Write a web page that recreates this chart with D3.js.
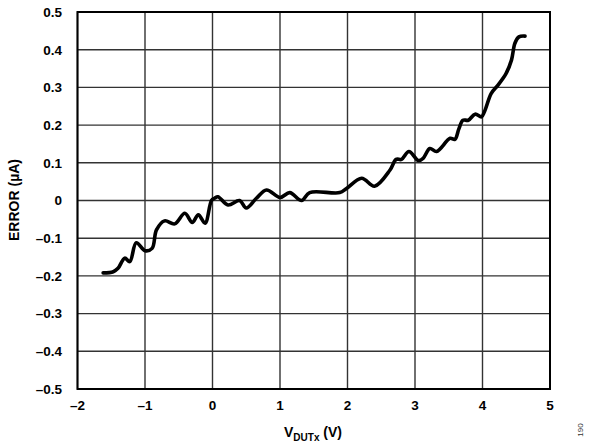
<!DOCTYPE html>
<html><head><meta charset="utf-8">
<script src="https://cdn.jsdelivr.net/npm/d3@7"></script>
<style>body{margin:0;background:#fff}</style>
</head><body>
<svg id="c" width="597" height="446"></svg>
<script>
const vdut = [-1.62,-1.47,-1.40,-1.30,-1.225,-1.13,-1.00,-0.895,-0.83,-0.71,-0.56,-0.41,-0.30,-0.21,-0.11,-0.015,0.03,0.08,0.23,0.40,0.50,0.65,0.80,1.0,1.145,1.32,1.44,1.885,1.985,2.21,2.40,2.63,2.72,2.80,2.91,3.05,3.12,3.22,3.32,3.52,3.59,3.65,3.71,3.79,3.89,3.985,4.03,4.13,4.23,4.35,4.43,4.48,4.54,4.63];
const errorUA = [-0.192,-0.189,-0.18,-0.153,-0.162,-0.112,-0.133,-0.127,-0.078,-0.054,-0.062,-0.034,-0.058,-0.038,-0.06,0.0,0.006,0.01,-0.012,0.0,-0.02,0.006,0.028,0.008,0.021,0.0,0.021,0.021,0.032,0.059,0.038,0.081,0.109,0.109,0.13,0.106,0.112,0.138,0.13,0.165,0.162,0.19,0.213,0.213,0.229,0.222,0.236,0.284,0.306,0.337,0.373,0.417,0.434,0.436];
const xTicks = [-2,-1,0,1,2,3,4,5];
const yTicks = [-0.5,-0.4,-0.3,-0.2,-0.1,0,0.1,0.2,0.3,0.4,0.5];
const fmt = v => (v < 0 ? "\u2013" : "") + (Math.abs(v) < 1e-9 ? "0" : String(Math.abs(v)));

const svg = d3.select("#c");
const L = 77.5, R = 550, T = 12, B = 389;
const x = d3.scaleLinear().domain([-2,5]).range([L,R]);
const y = d3.scaleLinear().domain([-0.5,0.5]).range([B,T]);

const g = svg.append("g");
g.selectAll("line.vx").data(xTicks).join("line")
  .attr("x1", d=>x(d)).attr("x2", d=>x(d)).attr("y1", T).attr("y2", B)
  .attr("stroke", "#333").attr("stroke-width", 1.4);
g.selectAll("line.hy").data(yTicks).join("line")
  .attr("y1", d=>y(d)).attr("y2", d=>y(d)).attr("x1", L).attr("x2", R)
  .attr("stroke", "#333").attr("stroke-width", 1.4);
g.append("rect").attr("x", L).attr("y", T).attr("width", R-L).attr("height", B-T)
  .attr("fill", "none").attr("stroke", "#000").attr("stroke-width", 2);

const font = "'Liberation Sans', Arial, sans-serif";
g.selectAll("text.xt").data(xTicks).join("text")
  .attr("x", d=>x(d)).attr("y", 410).attr("text-anchor", "middle")
  .attr("font-family", font).attr("font-weight", "bold").attr("font-size", 13.5)
  .text(fmt);
g.selectAll("text.yt").data(yTicks).join("text")
  .attr("x", 62).attr("y", d=>y(d)+4.8).attr("text-anchor", "end")
  .attr("font-family", font).attr("font-weight", "bold").attr("font-size", 13.5)
  .text(fmt);

const pts = vdut.map((v,i)=>[v, errorUA[i]]);
const line = d3.line().x(d=>x(d[0])).y(d=>y(d[1])).curve(d3.curveCatmullRom.alpha(0.5));
g.append("path").attr("d", line(pts)).attr("fill", "none")
  .attr("stroke", "#000").attr("stroke-width", 3.6).attr("stroke-linejoin", "round").attr("stroke-linecap", "round");

const xl = g.append("text").attr("x", 313).attr("y", 437).attr("text-anchor", "middle")
  .attr("font-family", font).attr("font-weight", "bold").attr("font-size", 14);
xl.append("tspan").text("V");
xl.append("tspan").attr("font-size", 10).attr("dy", 4).text("DUTx");
xl.append("tspan").attr("dy", -4).text(" (V)");

g.append("text").attr("transform", "translate(19,200) rotate(-90)").attr("text-anchor", "middle")
  .attr("font-family", font).attr("font-weight", "bold").attr("font-size", 14)
  .text("ERROR (\u00b5A)");

g.append("text").attr("transform", "translate(583,430) rotate(-90)").attr("text-anchor", "middle")
  .attr("font-family", font).attr("font-size", 8).attr("fill", "#333")
  .text("190");
</script>
</body></html>
